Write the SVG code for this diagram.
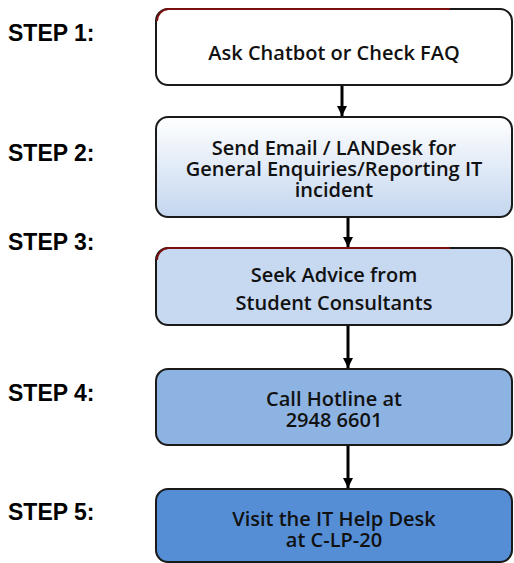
<svg xmlns="http://www.w3.org/2000/svg" width="514" height="563" viewBox="0 0 514 563">
<style>
.box{stroke:#1a1a1a;stroke-width:2}
.t{font-family:"Open Sans","Noto Sans",sans-serif;font-weight:600;font-size:20px;fill:#111;text-anchor:middle}
.s{font-family:"Liberation Sans",Arial,sans-serif;font-weight:bold;font-size:23px;fill:#000}
.c{stroke:#000;stroke-width:3;fill:none}
.red{stroke:#7a1010;stroke-width:2;fill:none}
</style>
<defs>
<linearGradient id="g2" x1="0" y1="0" x2="0" y2="1">
<stop offset="0" stop-color="#ffffff"/>
<stop offset="1" stop-color="#c3d6ef"/>
</linearGradient>
<marker id="ah" viewBox="0 0 10 10" refX="10" refY="5" markerWidth="3.4" markerHeight="3.4" orient="auto" markerUnits="strokeWidth">
<path d="M0,0 L10,5 L0,10 z" fill="#000"/>
</marker>
</defs>
<g id="labels">
<text class="s" x="8" y="41">STEP 1:</text>
<text class="s" x="8" y="161">STEP 2:</text>
<text class="s" x="8" y="250">STEP 3:</text>
<text class="s" x="8" y="401">STEP 4:</text>
<text class="s" x="8" y="520">STEP 5:</text>
</g>
<g id="connectors">
<line class="c" x1="342" y1="85" x2="342" y2="116" marker-end="url(#ah)"/>
<line class="c" x1="348" y1="217" x2="348" y2="247" marker-end="url(#ah)"/>
<line class="c" x1="348" y1="325" x2="348" y2="368" marker-end="url(#ah)"/>
<line class="c" x1="348" y1="445" x2="348" y2="488" marker-end="url(#ah)"/>
</g>
<g id="step1">
<rect class="box" x="156" y="9" width="356" height="76" rx="12" fill="#ffffff"/>
<path class="red" d="M157,21 A12,12 0 0 1 168,9 L450,9"/>
<text class="t" x="334" y="60">Ask Chatbot or Check FAQ</text>
</g>
<g id="step2">
<rect class="box" x="156" y="117" width="356" height="100" rx="12" fill="url(#g2)"/>
<text class="t" x="334" y="155">Send Email / LANDesk for</text>
<text class="t" x="334" y="176">General Enquiries/Reporting IT</text>
<text class="t" x="334" y="197">incident</text>
</g>
<g id="step3">
<rect class="box" x="156" y="248" width="356" height="77" rx="12" fill="#c6d9f1"/>
<path class="red" d="M157,260 A12,12 0 0 1 168,248 L450,248"/>
<text class="t" x="334" y="282">Seek Advice from</text>
<text class="t" x="334" y="310">Student Consultants</text>
</g>
<g id="step4">
<rect class="box" x="156" y="369" width="356" height="76" rx="12" fill="#8db3e2"/>
<text class="t" x="334" y="406">Call Hotline at</text>
<text class="t" x="334" y="427">2948 6601</text>
</g>
<g id="step5">
<rect class="box" x="156" y="489" width="356" height="73" rx="12" fill="#558ed5"/>
<text class="t" x="334" y="526">Visit the IT Help Desk</text>
<text class="t" x="334" y="547">at C-LP-20</text>
</g>
</svg>
